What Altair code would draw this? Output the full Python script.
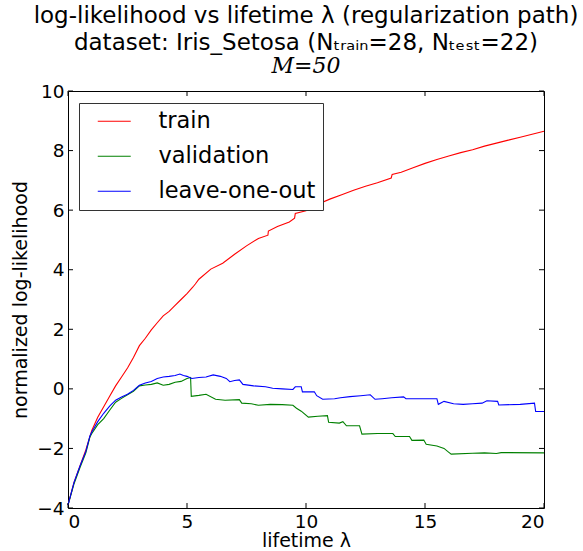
import altair as alt
import pandas as pd

# ---- data ----
series_names = ["train", "validation", "leave-one-out"]
series_colors = ["#ff0000", "#008000", "#0000ff"]

lam_train = [0, 0.25, 0.5, 0.75, 1.0, 1.25, 1.5, 1.75, 2.0, 2.25, 2.5, 2.75, 3.0, 3.25, 3.5,
             3.75, 4.0, 4.25, 4.5, 4.75, 5.0, 5.25, 5.35, 5.5, 6.0, 6.5, 7.0, 7.5, 8.0, 8.4,
             8.42, 8.8, 9.3, 9.52, 9.55, 10.0, 10.5, 11.0, 11.5, 12.0, 12.5, 13.0, 13.58,
             13.62, 14.0, 14.5, 15.0, 15.5, 16.0, 16.5, 17.0, 17.5, 18.0, 18.5, 19.0, 19.5, 20.0]
ll_train = [-3.9, -3.15, -2.6, -2.05, -1.4, -0.95, -0.6, -0.25, 0.1, 0.4, 0.7, 1.05, 1.45, 1.7,
            1.98, 2.22, 2.45, 2.6, 2.8, 3.0, 3.2, 3.42, 3.52, 3.68, 4.02, 4.22, 4.52, 4.8, 5.05,
            5.16, 5.3, 5.45, 5.6, 5.73, 5.89, 5.98, 6.2, 6.37, 6.52, 6.67, 6.8, 6.92, 7.08,
            7.2, 7.27, 7.42, 7.57, 7.7, 7.82, 7.93, 8.03, 8.15, 8.25, 8.35, 8.45, 8.55, 8.65]

lam_val = [0, 0.25, 0.5, 0.75, 0.92, 1.0, 1.25, 1.5, 1.75, 2.0, 2.25, 2.5, 2.75, 3.0, 3.25,
           3.5, 3.75, 4.0, 4.25, 4.5, 4.75, 5.0, 5.15, 5.18, 5.5, 5.8, 6.2, 6.6, 7.2, 7.3,
           7.7, 8.0, 8.5, 9.0, 9.45, 9.6, 9.8, 10.1, 10.5, 10.9, 10.95, 11.4, 11.55, 11.7,
           12.25, 12.35, 13.0, 13.65, 13.75, 14.35, 14.45, 14.95, 15.05, 15.5, 15.8, 15.95,
           16.1, 17.0, 17.5, 18.0, 18.2, 20.0]
ll_val = [-3.9, -3.2, -2.65, -2.15, -1.62, -1.5, -1.2, -1.0, -0.72, -0.45, -0.32, -0.2, -0.08,
          0.1, 0.13, 0.15, 0.2, 0.12, 0.15, 0.22, 0.25, 0.35, 0.38, -0.25, -0.22, -0.18, -0.35,
          -0.38, -0.36, -0.48, -0.5, -0.55, -0.52, -0.53, -0.55, -0.65, -0.75, -0.95, -0.92,
          -0.9, -1.12, -1.15, -1.1, -1.24, -1.24, -1.52, -1.5, -1.5, -1.6, -1.6, -1.73, -1.72,
          -1.86, -1.92, -2.0, -2.1, -2.19, -2.16, -2.15, -2.17, -2.14, -2.15]

lam_loo = [0, 0.25, 0.5, 0.75, 0.92, 1.0, 1.25, 1.5, 1.75, 2.0, 2.25, 2.5, 2.75, 3.0, 3.25,
           3.5, 3.75, 4.0, 4.25, 4.5, 4.7, 4.85, 5.0, 5.2, 5.5, 5.8, 6.1, 6.4, 6.65, 6.8, 7.0,
           7.2, 7.35, 7.8, 8.3, 8.6, 9.0, 9.45, 9.55, 9.8, 9.85, 10.35, 10.45, 10.7, 11.2,
           11.45, 11.85, 12.3, 12.7, 12.9, 13.2, 13.6, 14.1, 14.2, 15.0, 15.5, 15.56, 15.8,
           16.2, 16.6, 17.0, 17.4, 17.6, 18.05, 18.1, 19.0, 19.6, 19.65, 20.0]
ll_loo = [-3.9, -3.15, -2.6, -2.1, -1.58, -1.45, -1.1, -0.82, -0.58, -0.38, -0.27, -0.18,
          -0.05, 0.12, 0.2, 0.25, 0.35, 0.4, 0.42, 0.45, 0.5, 0.45, 0.42, 0.35, 0.38, 0.4,
          0.47, 0.42, 0.35, 0.24, 0.28, 0.3, 0.15, 0.1, 0.07, 0.02, 0.0, -0.02, 0.07, 0.07,
          -0.1, -0.1, -0.23, -0.35, -0.33, -0.3, -0.26, -0.23, -0.2, -0.35, -0.33, -0.3,
          -0.27, -0.33, -0.33, -0.33, -0.52, -0.42, -0.5, -0.52, -0.5, -0.48, -0.4, -0.42,
          -0.54, -0.52, -0.48, -0.76, -0.76]

x_ticks = [0, 5, 10, 15, 20]
y_ticks = [-4, -2, 0, 2, 4, 6, 8, 10]

title_lines = ["log-likelihood vs lifetime λ (regularization path)",
               "dataset: Iris_Setosa (Nₜᵣₐᵢₙ=28, Nₜₑₛₜ=22)"]
subtitle_text = "M=50"

# ---- build tables ----
rows = []
for name, lams, lls in [("train", lam_train, ll_train),
                        ("validation", lam_val, ll_val),
                        ("leave-one-out", lam_loo, ll_loo)]:
    for i, (a, b) in enumerate(zip(lams, lls)):
        rows.append({"series": name, "lam": a, "ll": b, "idx": i})
df = pd.DataFrame(rows)
xt = pd.DataFrame({"v": x_ticks})
yt = pd.DataFrame({"v": y_ticks})

W, H = 476, 417
xscale = alt.Scale(domain=[0, 20], nice=False, zero=False)
yscale = alt.Scale(domain=[-4, 10], nice=False, zero=False)
xaxis = alt.Axis(title="lifetime λ", values=x_ticks, labelPadding=4, titlePadding=1)
yaxis = alt.Axis(title="normalized log-likelihood", values=y_ticks,
                 labelPadding=4, titlePadding=6)

lines = alt.Chart(df).mark_line(strokeWidth=1.1).encode(
    x=alt.X("lam:Q", scale=xscale, axis=xaxis),
    y=alt.Y("ll:Q", scale=yscale, axis=yaxis),
    color=alt.Color("series:N",
                    scale=alt.Scale(domain=series_names, range=series_colors),
                    sort=series_names,
                    legend=alt.Legend(title=None, orient="none", legendX=11, legendY=12,
                                      symbolType="M-2,0H2", symbolSize=272,
                                      symbolStrokeWidth=1.1, labelFontSize=22.5,
                                      labelFont="DejaVu Sans", labelColor="black",
                                      padding=7, rowPadding=12, labelOffset=33,
                                      symbolOffset=17, strokeColor="#333333",
                                      fillColor="white", labelLimit=400)),
    order=alt.Order("idx:Q"),
)

tick_mark = dict(color="black", thickness=1, size=5, opacity=1)
tx_bottom = alt.Chart(xt).mark_tick(**tick_mark).encode(
    x=alt.X("v:Q", scale=xscale, axis=xaxis), y=alt.value(H - 2.5))
tx_top = alt.Chart(xt).mark_tick(**tick_mark).encode(
    x=alt.X("v:Q", scale=xscale, axis=xaxis), y=alt.value(2.5))
ty_left = alt.Chart(yt).mark_tick(**tick_mark).encode(
    y=alt.Y("v:Q", scale=yscale, axis=yaxis), x=alt.value(2.5))
ty_right = alt.Chart(yt).mark_tick(**tick_mark).encode(
    y=alt.Y("v:Q", scale=yscale, axis=yaxis), x=alt.value(W - 2.5))

chart = alt.layer(lines, tx_bottom, tx_top, ty_left, ty_right).properties(
    width=W, height=H,
    autosize=alt.AutoSizeParams(type="none"),
    padding={"left": 68, "top": 91, "right": 39, "bottom": 43},
    title=alt.TitleParams(text=title_lines, subtitle=subtitle_text,
                          font="DejaVu Sans", fontSize=23, fontWeight="normal",
                          color="black", lineHeight=27, anchor="middle",
                          subtitleFont="DejaVu Serif", subtitleFontStyle="italic",
                          subtitleFontSize=22, subtitleColor="black",
                          subtitlePadding=1, offset=5),
).configure_view(stroke="black", strokeWidth=1).configure_axis(
    ticks=False, domain=False, grid=False,
    labelFont="DejaVu Sans", labelFontSize=18.5, labelColor="black",
    titleFont="DejaVu Sans", titleFontSize=19, titleColor="black",
    titleFontWeight="normal",
)

chart.save("out.html", embed_options={"renderer": "svg", "actions": False})
